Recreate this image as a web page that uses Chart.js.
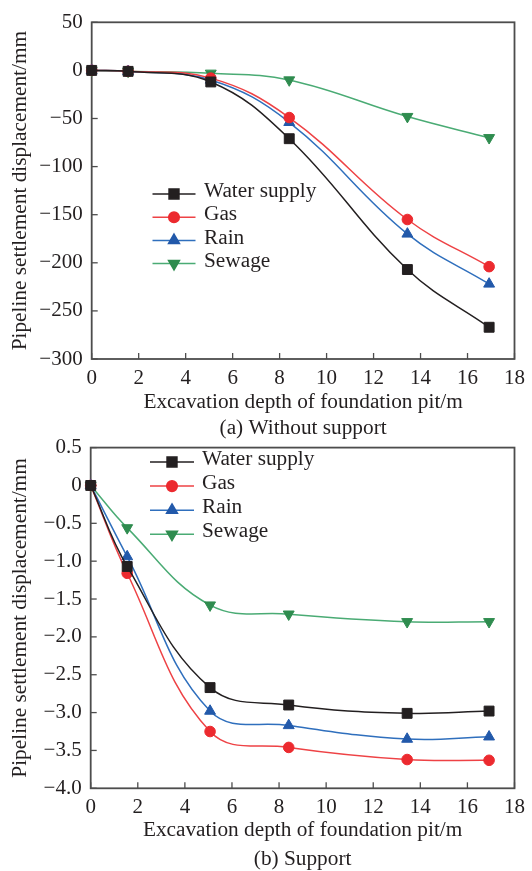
<!DOCTYPE html>
<html><head><meta charset="utf-8">
<script src="https://cdn.jsdelivr.net/npm/chart.js@4/dist/chart.umd.min.js"></script>
<style>
html,body{margin:0;padding:0;background:#fff;width:532px;height:871px;overflow:hidden;position:relative}
.c{position:absolute;left:0;width:532px}
</style></head><body>
<div class="c" style="top:0;height:445px"><canvas id="a" width="532" height="445"></canvas></div>
<div class="c" style="top:426px;height:448px"><canvas id="b" width="532" height="448"></canvas></div>
<script>
// ---- data ----
const depth = [0, 1.55, 5.07, 8.41, 13.44, 16.92];
const seriesNames = ['Water supply', 'Gas', 'Rain', 'Sewage'];
const waterA = [0, -1, -12, -71, -207, -267];
const gasA = [0, -1, -8, -49, -155, -204];
const rainA = [0, -1, -10, -54, -170, -222];
const sewageA = [0, -1, -3, -10, -48, -70];
const waterB = [0, -1.07, -2.67, -2.90, -3.01, -2.98];
const gasB = [0, -1.16, -3.25, -3.46, -3.62, -3.63];
const rainB = [0, -0.94, -2.98, -3.17, -3.35, -3.32];
const sewageB = [0, -0.56, -1.58, -1.70, -1.80, -1.80];
const xTickValues = [0, 2, 4, 6, 8, 10, 12, 14, 16, 18];
const xTickLabels = ['0', '2', '4', '6', '8', '10', '12', '14', '16', '18'];
const yTickValuesA = [50, 0, -50, -100, -150, -200, -250, -300];
const yTickLabelsA = ['50', '0', '\u221250', '\u2212100', '\u2212150', '\u2212200', '\u2212250', '\u2212300'];
const yTickValuesB = [0.5, 0, -0.5, -1.0, -1.5, -2.0, -2.5, -3.0, -3.5, -4.0];
const yTickLabelsB = ['0.5', '0', '\u22120.5', '\u22121.0', '\u22121.5', '\u22122.0', '\u22122.5', '\u22123.0', '\u22123.5', '\u22124.0'];
const xTitle = 'Excavation depth of foundation pit/m';
const yTitle = 'Pipeline settlement displacement/mm';
const captionA = '(a) Without support';
const captionB = '(b) Support';

// ---- styles ----
const FONT = '"Liberation Serif", "Times New Roman", serif';
const TXT = '#231f20';
const styles = [
  {line: '#231f20', fill: '#231f20', shape: 'rect', r: 7, rot: 0},
  {line: '#ee4245', fill: '#ec2a2f', shape: 'circle', r: 5.3, rot: 0},
  {line: '#2f6fbd', fill: '#2259aa', shape: 'triangle', r: 6.3, rot: 0},
  {line: '#4aab74', fill: '#2f8c4f', shape: 'triangle', r: 6.3, rot: 180}
];

Chart.defaults.font.family = FONT;
Chart.defaults.font.size = 21;
Chart.defaults.color = TXT;

const framePlugin = {
  id: 'frame',
  beforeDatasetsDraw(chart) {
    const {ctx, chartArea: {left, right, top, bottom}, scales: {x, y}} = chart;
    ctx.save();
    ctx.strokeStyle = '#4d4d4d';
    ctx.lineWidth = 1.3;
    x.ticks.forEach(t => {
      const px = x.getPixelForValue(t.value);
      ctx.beginPath(); ctx.moveTo(px, bottom); ctx.lineTo(px, bottom - 6); ctx.stroke();
    });
    y.ticks.forEach(t => {
      const py = y.getPixelForValue(t.value);
      ctx.beginPath(); ctx.moveTo(left, py); ctx.lineTo(left + 6, py); ctx.stroke();
    });
    ctx.lineWidth = 1.8;
    ctx.strokeRect(left, top, right - left, bottom - top);
    ctx.restore();
  }
};

const legendPlugin = {
  id: 'inlineLegend',
  afterDraw(chart, args, o) {
    const ctx = chart.ctx;
    chart.data.datasets.forEach((ds, i) => {
      const y = o.y + i * o.row;
      ctx.save();
      ctx.strokeStyle = ds.borderColor; ctx.lineWidth = ds.borderWidth;
      ctx.beginPath(); ctx.moveTo(o.x, y); ctx.lineTo(o.x + o.len, y); ctx.stroke();
      ctx.fillStyle = ds.pointBackgroundColor; ctx.strokeStyle = ds.pointBorderColor;
      Chart.helpers.drawPoint(ctx, {pointStyle: ds.pointStyle, radius: ds.pointRadius, rotation: ds.pointRotation, borderWidth: 1}, o.x + o.len / 2, y);
      ctx.fillStyle = TXT;
      ctx.font = '21.3px ' + FONT;
      ctx.textBaseline = 'middle'; ctx.textAlign = 'left';
      ctx.fillText(ds.label, o.textX, y - 2.5);
      ctx.restore();
    });
  }
};

function makeDatasets(seriesValues, tension) {
  return seriesValues.map((vals, i) => ({
    label: seriesNames[i],
    data: depth.map((d, k) => ({x: d, y: vals[k]})),
    borderColor: styles[i].line,
    backgroundColor: styles[i].fill,
    borderWidth: 1.5,
    pointStyle: styles[i].shape,
    pointRadius: styles[i].r,
    pointRotation: styles[i].rot,
    pointBackgroundColor: styles[i].fill,
    pointBorderColor: styles[i].fill,
    pointBorderWidth: 1,
    tension: tension,
    clip: false
  }));
}

function makeChart(id, seriesValues, yVals, yLabels, yMin, yMax, caption, geo) {
  return new Chart(document.getElementById(id), {
    type: 'line',
    data: {datasets: makeDatasets(seriesValues, geo.tension)},
    plugins: [framePlugin, legendPlugin],
    options: {
      responsive: false,
      animation: false,
      devicePixelRatio: 1,
      layout: {padding: {left: 0, right: geo.padRight, top: geo.padTop, bottom: 0}},
      plugins: {
        legend: {display: false},
        tooltip: {enabled: false},
        inlineLegend: geo.legend
      },
      scales: {
        x: {
          type: 'linear', min: 0, max: 18,
          afterBuildTicks: s => { s.ticks = xTickValues.map(v => ({value: v})); },
          afterFit: s => { s.height = geo.xHeight; },
          ticks: {
            padding: geo.xPad, maxRotation: 0, autoSkip: false,
            callback: v => xTickLabels[xTickValues.indexOf(v)],
            font: {size: 21}
          },
          grid: {display: false, drawTicks: false},
          border: {display: false},
          title: {
            display: true, text: [xTitle, caption],
            font: {size: 21.3, lineHeight: geo.titleLH},
            padding: {top: 0, bottom: geo.titlePB}
          }
        },
        y: {
          type: 'linear', min: yMin, max: yMax,
          afterBuildTicks: s => { s.ticks = yVals.map(v => ({value: v})); },
          afterFit: s => { s.width = geo.yWidth; },
          ticks: {
            padding: 9, autoSkip: false,
            callback: v => yLabels[yVals.indexOf(v)],
            font: {size: 21}
          },
          grid: {display: false, drawTicks: false},
          border: {display: false},
          title: {
            display: true, text: yTitle,
            font: {size: 21.3, lineHeight: 1.25},
            padding: {top: 6.9, bottom: 0}
          }
        }
      }
    }
  });
}

makeChart('a', [waterA, gasA, rainA, sewageA], yTickValuesA, yTickLabelsA, -300, 50, captionA, {
  padRight: 15.5, padTop: 22.3, xHeight: 86, yWidth: 91.7, xPad: 7, tension: 0.4,
  titleLH: 1.2, titlePB: 3.9,
  legend: {x: 152.5, y: 194, row: 23.2, len: 43, textX: 204}
});
makeChart('b', [waterB, gasB, rainB, sewageB], yTickValuesB, yTickLabelsB, -4, 0.5, captionB, {
  padRight: 13, padTop: 19.3, xHeight: 85.7, yWidth: 90.7, xPad: 7, tension: 0.4,
  titleLH: 1.36, titlePB: 0.5,
  legend: {x: 150, y: 462 - 426, row: 24.1, len: 44, textX: 202}
});
</script>
</body></html>
